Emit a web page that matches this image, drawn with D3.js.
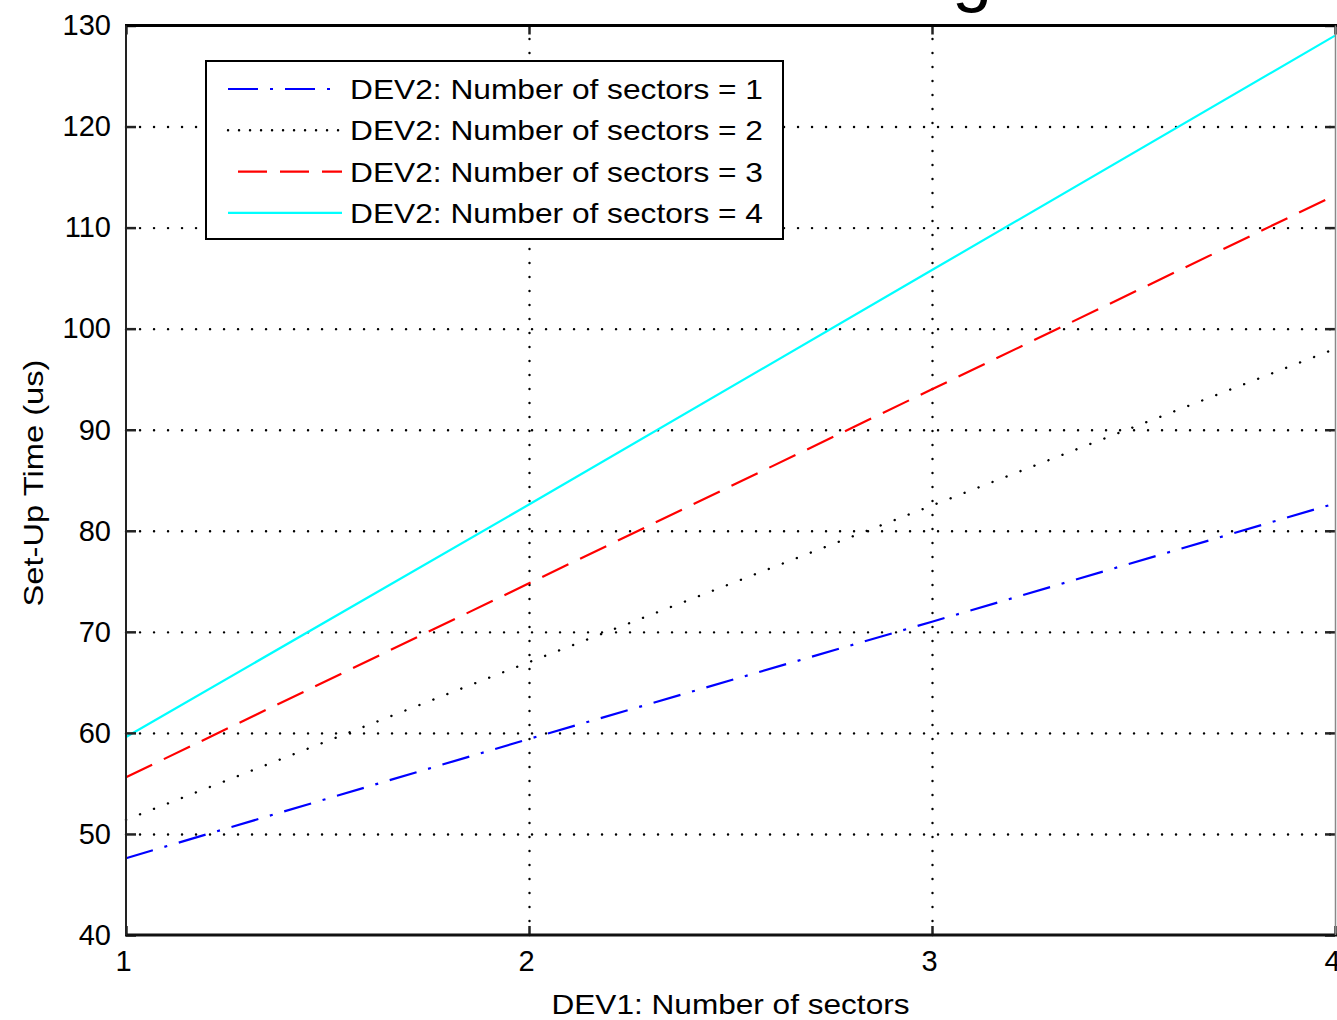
<!DOCTYPE html>
<html>
<head>
<meta charset="utf-8">
<script src="https://cdn.jsdelivr.net/npm/d3@7"></script>
<style>
  html, body { margin: 0; padding: 0; background: #fff; overflow: hidden; }
  svg { display: block; }
  text { font-family: "Liberation Sans", Arial, Helvetica, sans-serif; fill: #000; }
</style>
</head>
<body>
<svg id="chart" width="1337" height="1020"></svg>
<script>
// DEV1 sector count on the x axis
const dev1Sectors = [1, 2, 3, 4];

// Set-up time (us) for each DEV2 sector count
const setupSectors1 = [47.6, 59.4, 71.0, 82.7];
const setupSectors2 = [51.4, 67.0, 82.5, 98.0];
const setupSectors3 = [55.6, 74.8, 94.0, 113.2];
const setupSectors4 = [59.6, 82.6, 105.8, 129.0];

const seriesNames = [
  "DEV2: Number of sectors = 1",
  "DEV2: Number of sectors = 2",
  "DEV2: Number of sectors = 3",
  "DEV2: Number of sectors = 4"
];

const xTicks = [1, 2, 3, 4];
const yTicks = [40, 50, 60, 70, 80, 90, 100, 110, 120, 130];

const titleText = "Device Timing";
const xLabel = "DEV1: Number of sectors";
const yLabel = "Set-Up Time (us)";

const series = [
  { name: seriesNames[0], values: setupSectors1, color: "#0000ff", style: "dashdot" },
  { name: seriesNames[1], values: setupSectors2, color: "#000000", style: "dotted" },
  { name: seriesNames[2], values: setupSectors3, color: "#ff0000", style: "dashed" },
  { name: seriesNames[3], values: setupSectors4, color: "#00ffff", style: "solid" }
];

const dashFor = {
  dashdot: "28,12,3,12",
  dotted: "0.1,14.9",
  dashed: "29,13",
  solid: null
};

const svg = d3.select("#chart");
const plotLeft = 126, plotRight = 1335, plotTop = 25.5, plotBottom = 935;
const W = plotRight - plotLeft, H = plotBottom - plotTop;

const x = d3.scaleLinear().domain([1, 4]).range([plotLeft, plotRight]);
const y = d3.scaleLinear().domain([40, 130]).range([plotBottom, plotTop]);

// Title sits above the canvas; only its descenders reach the top edge
svg.append("text")
  .attr("x", 992).attr("y", -2)
  .attr("text-anchor", "end")
  .style("font-size", "72px")
  .text(titleText);

// Dotted grid
const gridX = svg.append("g").attr("transform", `translate(0,${plotBottom})`)
  .call(d3.axisBottom(x).tickValues(xTicks.slice(1, -1)).tickSize(-H).tickFormat(""));
const gridY = svg.append("g").attr("transform", `translate(${plotLeft},0)`)
  .call(d3.axisLeft(y).tickValues(yTicks.slice(1, -1)).tickSize(-W).tickFormat(""));
[gridX, gridY].forEach(g => {
  g.select(".domain").remove();
  g.selectAll("line")
    .attr("stroke", "#000")
    .attr("stroke-width", 2.4)
    .attr("stroke-linecap", "round")
    .attr("stroke-dasharray", "0.1,13.9");
});

// Data lines
const line = d3.line()
  .x((d, i) => x(dev1Sectors[i]))
  .y(d => y(d));

series.forEach(s => {
  const dotted = s.style === "dotted";
  svg.append("path")
    .datum(s.values)
    .attr("fill", "none")
    .attr("stroke", s.color)
    .attr("stroke-width", dotted ? 2.4 : 2.2)
    .attr("stroke-linecap", dotted ? "round" : "butt")
    .attr("stroke-dasharray", dashFor[s.style])
    .attr("d", line);
});

// Axes with inward ticks
const axisB = svg.append("g").attr("transform", `translate(0,${plotBottom})`)
  .call(d3.axisBottom(x).tickValues(xTicks).tickSize(-9).tickPadding(10).tickFormat(d3.format("d")));
const axisT = svg.append("g").attr("transform", `translate(0,${plotTop})`)
  .call(d3.axisTop(x).tickValues(xTicks).tickSize(-9).tickFormat(""));
const axisL = svg.append("g").attr("transform", `translate(${plotLeft},0)`)
  .call(d3.axisLeft(y).tickValues(yTicks).tickSize(-10).tickPadding(15).tickFormat(d3.format("d")));
const axisR = svg.append("g").attr("transform", `translate(${plotRight},0)`)
  .call(d3.axisRight(y).tickValues(yTicks).tickSize(-10).tickFormat(""));

[axisB, axisT, axisL, axisR].forEach(g => {
  g.select(".domain").remove();
  g.selectAll(".tick line").attr("stroke", "#222").attr("stroke-width", 2.5);
  g.selectAll(".tick text")
    .style("font-family", "'Liberation Sans', Arial, sans-serif")
    .style("font-size", "29px")
    .attr("fill", "#000");
});
axisB.selectAll(".tick text").attr("dy", "0.88em").attr("x", -3);

// Plot frame
svg.append("line").attr("x1", plotLeft - 1).attr("x2", plotRight + 2).attr("y1", plotTop).attr("y2", plotTop)
  .attr("stroke", "#000").attr("stroke-width", 3);
svg.append("line").attr("x1", plotLeft - 1).attr("x2", plotRight + 2).attr("y1", plotBottom).attr("y2", plotBottom)
  .attr("stroke", "#111").attr("stroke-width", 3);
svg.append("line").attr("x1", plotLeft).attr("x2", plotLeft).attr("y1", plotTop).attr("y2", plotBottom)
  .attr("stroke", "#222").attr("stroke-width", 2);
svg.append("line").attr("x1", plotRight + 0.5).attr("x2", plotRight + 0.5).attr("y1", plotTop).attr("y2", plotBottom)
  .attr("stroke", "#888").attr("stroke-width", 1.5);

// Axis labels
svg.append("text")
  .attr("x", (plotLeft + plotRight) / 2).attr("y", 1014)
  .attr("text-anchor", "middle")
  .style("font-size", "28px")
  .attr("textLength", 358).attr("lengthAdjust", "spacingAndGlyphs")
  .text(xLabel);

svg.append("text")
  .attr("transform", `translate(43,483) rotate(-90)`)
  .attr("text-anchor", "middle")
  .style("font-size", "28px")
  .attr("textLength", 247).attr("lengthAdjust", "spacingAndGlyphs")
  .text(yLabel);

// Legend
const lg = svg.append("g");
lg.append("rect")
  .attr("x", 206).attr("y", 61).attr("width", 577).attr("height", 178)
  .attr("fill", "#fff").attr("stroke", "#000").attr("stroke-width", 2);
series.forEach((s, i) => {
  const cy = 89 + i * 41.3;
  const dotted = s.style === "dotted";
  lg.append("line")
    .attr("x1", s.style === "dashed" ? 238 : 228).attr("x2", 342).attr("y1", cy).attr("y2", cy)
    .attr("stroke", s.color)
    .attr("stroke-width", dotted ? 2.4 : 2.2)
    .attr("stroke-linecap", dotted ? "round" : "butt")
    .attr("stroke-dasharray", dotted ? "0.1,10.9" : (s.style === "dashdot" ? "30,12,3,12" : dashFor[s.style]));
  lg.append("text")
    .attr("x", 350).attr("y", cy + 10)
    .style("font-size", "28px")
    .attr("textLength", 413).attr("lengthAdjust", "spacingAndGlyphs")
    .text(s.name);
});
</script>
</body>
</html>
